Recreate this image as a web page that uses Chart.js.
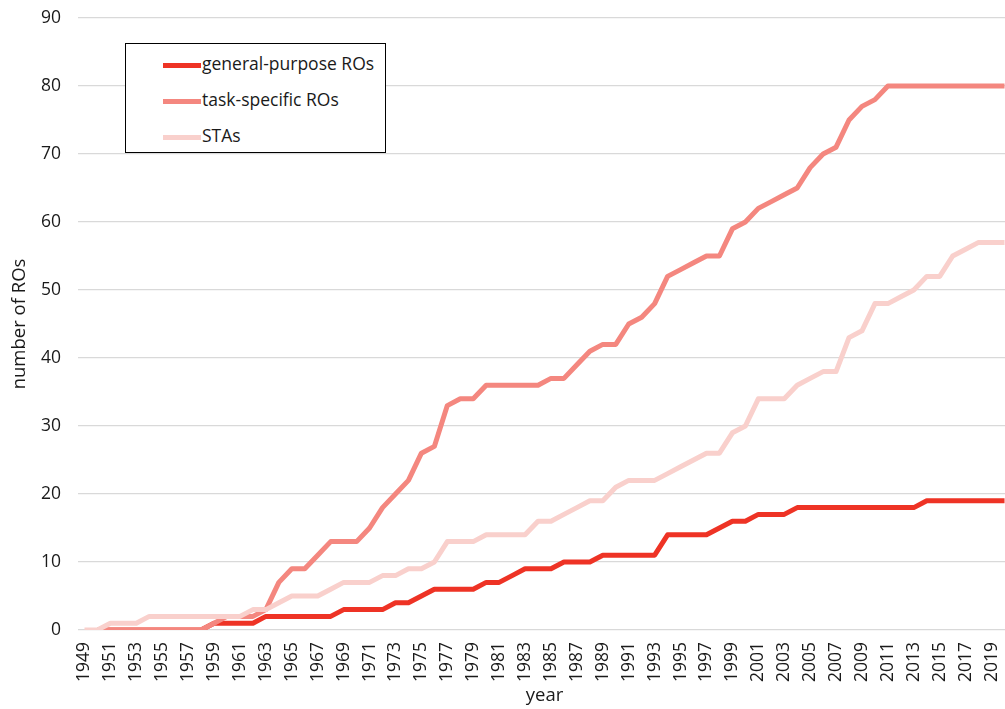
<!DOCTYPE html>
<html>
<head>
<meta charset="utf-8">
<script src="https://cdn.jsdelivr.net/npm/chart.js@4.4.1/dist/chart.umd.min.js"></script>
<style>
    html, body { margin: 0; padding: 0; background: #fff; overflow: hidden; }
    .wrap { position: relative; width: 1005px; height: 709px; overflow: hidden; }
    #chart { position: absolute; left: 0; top: 0; }
    .legend {
        position: absolute; left: 125px; top: 43px; width: 259px; height: 108px;
        border: 1px solid #000; background: #fff;
        font-family: "Open Sans", sans-serif; font-size: 17.5px; color: #1a1a1a;
    }
    .legend div { position: absolute; left: 37px; height: 24px; line-height: 24px; white-space: nowrap; }
    .legend span { display: inline-block; width: 38px; height: 5px; vertical-align: middle; margin-right: 1px; }
</style>
</head>
<body>
<div class="wrap">
    <canvas id="chart" width="1012" height="709" style="width:1012px;height:709px"></canvas>
    <div class="legend" id="legend"></div>
</div>
<script>
const years = [
    1949, 1950, 1951, 1952, 1953, 1954, 1955, 1956, 1957, 1958,
    1959, 1960, 1961, 1962, 1963, 1964, 1965, 1966, 1967, 1968,
    1969, 1970, 1971, 1972, 1973, 1974, 1975, 1976, 1977, 1978,
    1979, 1980, 1981, 1982, 1983, 1984, 1985, 1986, 1987, 1988,
    1989, 1990, 1991, 1992, 1993, 1994, 1995, 1996, 1997, 1998,
    1999, 2000, 2001, 2002, 2003, 2004, 2005, 2006, 2007, 2008,
    2009, 2010, 2011, 2012, 2013, 2014, 2015, 2016, 2017, 2018,
    2019, 2020
];

const seriesNames = ['general-purpose ROs', 'task-specific ROs', 'STAs'];

const generalPurpose = [
    null, 0, 0, 0, 0, 0, 0, 0, 0, 0,
    1, 1, 1, 1, 2, 2, 2, 2, 2, 2,
    3, 3, 3, 3, 4, 4, 5, 6, 6, 6,
    6, 7, 7, 8, 9, 9, 9, 10, 10, 10,
    11, 11, 11, 11, 11, 14, 14, 14, 14, 15,
    16, 16, 17, 17, 17, 18, 18, 18, 18, 18,
    18, 18, 18, 18, 18, 19, 19, 19, 19, 19,
    19, 19
];

const taskSpecific = [
    null, 0, 0, 0, 0, 0, 0, 0, 0, 0,
    1, 2, 2, 2, 3, 7, 9, 9, 11, 13,
    13, 13, 15, 18, 20, 22, 26, 27, 33, 34,
    34, 36, 36, 36, 36, 36, 37, 37, 39, 41,
    42, 42, 45, 46, 48, 52, 53, 54, 55, 55,
    59, 60, 62, 63, 64, 65, 68, 70, 71, 75,
    77, 78, 80, 80, 80, 80, 80, 80, 80, 80,
    80, 80
];

const stas = [
    0, 0, 1, 1, 1, 2, 2, 2, 2, 2,
    2, 2, 2, 3, 3, 4, 5, 5, 5, 6,
    7, 7, 7, 8, 8, 9, 9, 10, 13, 13,
    13, 14, 14, 14, 14, 16, 16, 17, 18, 19,
    19, 21, 22, 22, 22, 23, 24, 25, 26, 26,
    29, 30, 34, 34, 34, 36, 37, 38, 38, 43,
    44, 48, 48, 49, 50, 52, 52, 55, 56, 57,
    57, 57
];

const colors = ['#ee3325', '#f4877f', '#f9d0cc'];
const textColor = '#1a1a1a';
const fontFamily = '"Open Sans", sans-serif';

function makeDataset(label, data, color, order) {
    return {
        label: label,
        data: data,
        borderColor: color,
        backgroundColor: color,
        borderWidth: 5,
        pointRadius: 0,
        tension: 0,
        borderJoinStyle: 'round',
        borderCapStyle: 'butt',
        spanGaps: false,
        order: order
    };
}

const legendBox = document.getElementById('legend');
seriesNames.forEach((name, i) => {
    const row = document.createElement('div');
    row.style.top = (7 + i * 36) + 'px';
    const swatch = document.createElement('span');
    swatch.style.background = colors[i];
    row.appendChild(swatch);
    row.appendChild(document.createTextNode(name));
    legendBox.appendChild(row);
});

const ctx = document.getElementById('chart').getContext('2d');
const chart = new Chart(ctx, {
    type: 'line',
    data: {
        labels: years,
        datasets: [
            makeDataset(seriesNames[0], generalPurpose, colors[0], 3),
            makeDataset(seriesNames[1], taskSpecific, colors[1], 2),
            makeDataset(seriesNames[2], stas, colors[2], 1)
        ]
    },
    options: {
        responsive: false,
        animation: false,
        layout: { padding: { top: 18, left: 0, right: 1, bottom: 0 } },
        plugins: {
            legend: { display: false },
            tooltip: { enabled: false }
        },
        scales: {
            x: {
                type: 'category',
                offset: true,
                grid: { display: false, drawTicks: false },
                border: { display: false },
                ticks: {
                    autoSkip: false,
                    minRotation: 90,
                    maxRotation: 90,
                    padding: 12,
                    color: textColor,
                    font: { family: fontFamily, size: 17.5 },
                    callback: (value, index) => index % 2 === 0 ? years[index] : ''
                },
                title: {
                    display: true,
                    text: 'year',
                    color: textColor,
                    font: { family: fontFamily, size: 18.5 },
                    padding: { top: 0, bottom: 2 }
                },
                afterFit: (scale) => {
                    scale.height = 79;
                    scale.paddingLeft = 0;
                    scale.paddingRight = 0;
                }
            },
            y: {
                min: 0,
                max: 90,
                ticks: {
                    stepSize: 10,
                    padding: 17,
                    color: textColor,
                    font: { family: fontFamily, size: 17.5 }
                },
                grid: { color: '#d9d9d9', lineWidth: 1.3, drawTicks: false },
                border: { display: false },
                title: {
                    display: true,
                    text: 'number of ROs',
                    color: textColor,
                    font: { family: fontFamily, size: 18.5 },
                    padding: { top: 9, bottom: 0 }
                },
                afterFit: (scale) => {
                    scale.width = 78;
                    scale.paddingTop = 0;
                    scale.paddingBottom = 0;
                }
            }
        }
    }
});
</script>
</body>
</html>
